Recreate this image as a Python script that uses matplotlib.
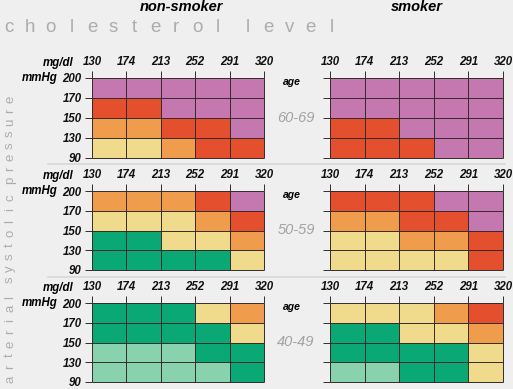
import matplotlib

matplotlib.use("Agg")

import matplotlib.pyplot as plt
import numpy as np
from matplotlib.colors import ListedColormap

W, H = 513, 389

chol_ticks = ["130", "174", "213", "252", "291", "320"]
bp_ticks = ["200", "170", "150", "130", "90"]
age_groups = ["60-69", "50-59", "40-49"]
groups = ["non-smoker", "smoker"]

# risk class per cell: 0 light green, 1 green, 2 yellow, 3 orange, 4 red, 5 purple
# rows top (200-170) to bottom (130-90), columns low to high cholesterol
nonsmoker = {
    "60-69": [[5, 5, 5, 5, 5],
              [4, 4, 5, 5, 5],
              [3, 3, 4, 4, 5],
              [2, 2, 3, 4, 4]],
    "50-59": [[3, 3, 3, 4, 5],
              [2, 2, 2, 3, 4],
              [1, 1, 2, 2, 3],
              [1, 1, 1, 1, 2]],
    "40-49": [[1, 1, 1, 2, 3],
              [1, 1, 1, 1, 2],
              [0, 0, 0, 1, 1],
              [0, 0, 0, 0, 1]],
}
smoker = {
    "60-69": [[5, 5, 5, 5, 5],
              [5, 5, 5, 5, 5],
              [4, 4, 5, 5, 5],
              [4, 4, 4, 5, 5]],
    "50-59": [[4, 4, 4, 5, 5],
              [3, 3, 4, 4, 5],
              [2, 2, 3, 3, 4],
              [2, 2, 2, 2, 4]],
    "40-49": [[2, 2, 2, 3, 4],
              [1, 1, 2, 2, 3],
              [1, 1, 1, 1, 2],
              [0, 0, 1, 1, 2]],
}

risk_colors = ["#88d3ae", "#0aa874", "#f0da8c", "#ef9c4c", "#e4502e", "#c578b0"]
cmap = ListedColormap(risk_colors)
BG = "#efefef"
DARK = "#352a2a"
GRAY = "#acacac"
FONT = "Liberation Sans"


def fx(x):
    return x / W


def fy(y):
    return 1 - y / H


def spaced(fig, text, x0, y0, pitch, gap, vertical=False, **kw):
    pos = 0.0
    for ch in text:
        if ch == " ":
            pos += gap
            continue
        if vertical:
            fig.text(fx(x0), fy(y0 - pos), ch, rotation=90,
                     ha="center", va="center", **kw)
        else:
            fig.text(fx(x0 + pos), fy(y0), ch, ha="center", va="center", **kw)
        pos += pitch


fig = plt.figure(figsize=(W / 100, H / 100), dpi=100, facecolor=BG)

col_left = {"non-smoker": (92, 264), "smoker": (330, 503)}
row_top = {"60-69": (78, 158), "50-59": (191, 270), "40-49": (303, 382)}
tick_font = dict(family=FONT, weight="bold", style="italic", size=8.3)

for age in age_groups:
    y0, y1 = row_top[age]
    for grp in groups:
        x0, x1 = col_left[grp]
        ax = fig.add_axes([fx(x0), fy(y1), (x1 - x0) / W, (y1 - y0) / H])
        data = np.array(nonsmoker[age] if grp == "non-smoker" else smoker[age])
        ax.pcolormesh(data, cmap=cmap, vmin=-0.5, vmax=5.5)
        nr, nc = data.shape
        ax.hlines(range(nr + 1), 0, nc, color=DARK, linewidth=0.7,
                  clip_on=False)
        ax.vlines(range(nc + 1), 0, nr, color=DARK, linewidth=0.7,
                  clip_on=False)
        ax.set_xlim(0, nc)
        ax.set_ylim(nr, 0)
        for s in ax.spines.values():
            s.set_visible(False)
        ax.xaxis.tick_top()
        ax.set_xticks(range(nc + 1))
        ax.set_xticklabels(chol_ticks, fontdict=tick_font)
        ax.set_yticks(range(nr + 1))
        if grp == "non-smoker":
            ax.set_yticklabels(bp_ticks, fontdict=tick_font)
        else:
            ax.set_yticklabels([])
        ax.tick_params(length=5, width=0.7, color=DARK, pad=2.5,
                       labelcolor="#111111")
        ax.set_facecolor(BG)

    fig.text(fx(58), fy(y0 - 15), "mg/dl", ha="center", va="center",
             **tick_font)
    fig.text(fx(40), fy(y0), "mmHg", ha="center", va="center", **tick_font)
    fig.text(fx(292), fy(y0 + 4), "age", ha="center", va="center",
             family=FONT, weight="bold", style="italic", size=7.5)
    fig.text(fx(296), fy((y0 + y1) / 2), age, ha="center", va="center",
             family=FONT, style="italic", size=10.5, color="#a2a2a2")

for ysep in (164, 277):
    fig.add_artist(plt.Line2D([fx(48), fx(505)], [fy(ysep), fy(ysep)],
                              color="#d8d8d8", linewidth=1.2))

fig.text(fx(182), fy(7), "non-smoker", ha="center", va="center",
         family=FONT, weight="bold", style="italic", size=10.5)
fig.text(fx(417), fy(7), "smoker", ha="center", va="center",
         family=FONT, weight="bold", style="italic", size=10.5)

spaced(fig, "cholesterol level", 9, 28, 20.9, 9, family=FONT, size=13.5,
       color=GRAY)
spaced(fig, "arterial systolic pressure", 10, 379, 11.7, 5.5, vertical=True,
       family=FONT, size=9.5, color=GRAY)

fig.savefig("out.png", dpi=100, facecolor=BG)
